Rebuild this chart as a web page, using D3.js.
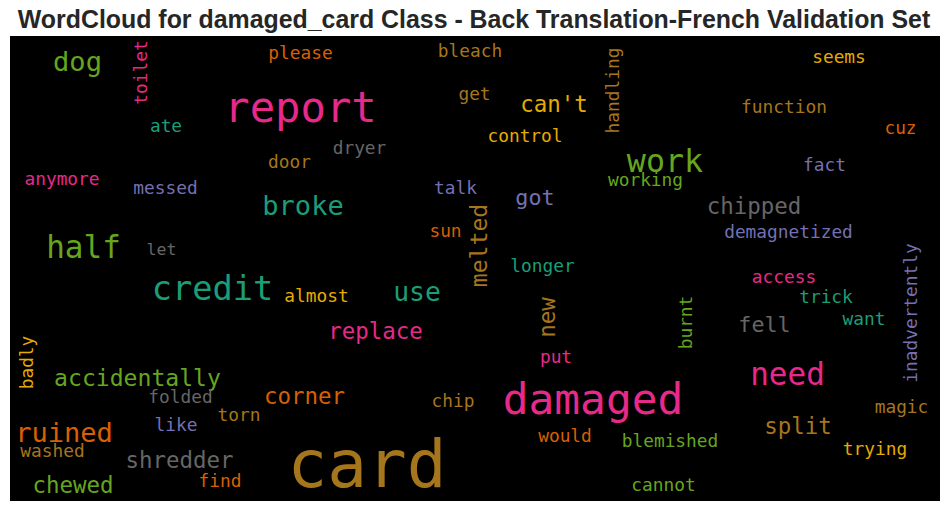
<!DOCTYPE html>
<html>
<head>
<meta charset="utf-8">
<script src="https://cdn.jsdelivr.net/npm/d3@7"></script>
<style>
  body { margin: 0; background: #fff; }
  svg { display: block; }
</style>
</head>
<body>
<svg id="chart" width="950" height="511"></svg>
<script>
const TITLE = 'WordCloud for damaged_card Class - Back Translation-French Validation Set';

// words and their relative frequency (1 = most frequent)
const WORDS = ['report', 'card', 'damaged', 'credit', 'work', 'half', 'need', 'dog', 'broke', 'ruined',
	'use', "can't", 'replace', 'chipped', 'accidentally', 'corner', 'split', 'chewed', 'shredder', 'got',
	'fell', 'please', 'ate', 'dryer', 'door', 'anymore', 'bleach', 'get', 'control', 'seems',
	'function', 'cuz', 'fact', 'messed', 'talk', 'let', 'sun', 'almost', 'working', 'demagnetized',
	'longer', 'access', 'trick', 'want', 'folded', 'chip', 'torn', 'like', 'washed', 'find',
	'put', 'magic', 'would', 'blemished', 'trying', 'cannot', 'toilet', 'handling', 'melted', 'new',
	'burnt', 'inadvertently', 'badly'];
const FREQ = [0.64, 1.00, 0.65, 0.51, 0.48, 0.47, 0.47, 0.41, 0.41, 0.41,
	0.40, 0.34, 0.34, 0.34, 0.35, 0.34, 0.34, 0.34, 0.34, 0.33,
	0.33, 0.27, 0.27, 0.27, 0.27, 0.27, 0.27, 0.27, 0.27, 0.27,
	0.27, 0.27, 0.27, 0.27, 0.27, 0.25, 0.27, 0.27, 0.27, 0.27,
	0.27, 0.27, 0.27, 0.27, 0.27, 0.27, 0.27, 0.27, 0.27, 0.27,
	0.27, 0.27, 0.27, 0.27, 0.27, 0.27, 0.27, 0.27, 0.35, 0.34,
	0.27, 0.27, 0.27];

// cloud layout (cloud coordinates 930 x 465), rotation and colour slot in Dark2
const LAYOUT_X = [290.5, 357, 583, 202.5, 655, 73.5, 777.5, 67.5, 293, 54,
	407, 544, 365.5, 744, 127.5, 294.5, 788, 63, 169.5, 525,
	754.5, 290.5, 156, 349.5, 279.5, 52, 460, 464.5, 515, 829,
	774, 890.5, 814.5, 155.5, 445.5, 151.5, 435.5, 306.5, 635.5, 778.5,
	532.5, 774, 816, 854, 170.5, 443, 229, 166, 42.5, 210,
	546, 891.5, 555, 660, 865, 653.5, 137, 609, 477, 545,
	682, 907, 22.5];
const LAYOUT_Y = [86, 451, 378, 264, 136, 222, 349, 35, 179, 406,
	265, 76, 303, 178, 350, 368, 398, 457, 432, 169,
	296, 23, 96, 118, 132, 149, 21, 64, 106, 27,
	77, 98, 135, 158, 158, 219, 201, 266, 150, 202,
	236, 247, 267, 289, 367, 371, 385, 395, 421, 451,
	327, 377, 406, 411, 419, 455, 36.5, 54.5, 209.5, 281.5,
	286.5, 277, 326.5];
const VERTICAL = ['toilet', 'handling', 'melted', 'new', 'burnt', 'inadvertently', 'badly'];
const HUE = [3, 6, 3, 0, 4, 4, 3, 4, 0, 1,
	0, 5, 3, 7, 4, 1, 6, 4, 7, 2,
	7, 1, 0, 7, 6, 3, 6, 6, 5, 5,
	6, 1, 2, 2, 2, 7, 1, 5, 4, 2,
	0, 3, 0, 0, 7, 6, 6, 2, 6, 1,
	3, 6, 1, 4, 5, 4, 3, 6, 6, 6,
	4, 2, 5];

const svg = d3.select('#chart');

svg.append('text')
	.attr('x', 474)
	.attr('y', 27.5)
	.attr('text-anchor', 'middle')
	.style('font-family', '"Liberation Sans", Arial, sans-serif')
	.style('font-weight', 'bold')
	.style('font-size', '24.9px')
	.style('fill', '#262626')
	.text(TITLE);

const x = d3.scaleLinear().domain([0, 930]).range([10, 940]);
const y = d3.scaleLinear().domain([0, 465]).range([36, 501]);
const size = d3.scaleLinear().domain([0, 1]).range([0, 66]);
const colour = d3.scaleOrdinal().domain(d3.range(8)).range(d3.schemeDark2);

svg.append('rect')
	.attr('x', x(0))
	.attr('y', y(0))
	.attr('width', x(930) - x(0))
	.attr('height', y(465) - y(0))
	.attr('fill', '#000');

const data = WORDS.map((w, i) => ({
	text: w, freq: FREQ[i], cx: LAYOUT_X[i], cy: LAYOUT_Y[i], hue: HUE[i],
	rot: VERTICAL.includes(w) ? -90 : 0
}));

svg.append('g')
	.selectAll('text')
	.data(data)
	.enter()
	.append('text')
	.attr('transform', d => `translate(${x(d.cx)},${y(d.cy)}) rotate(${d.rot})`)
	.attr('text-anchor', 'middle')
	.style('font-family', '"DejaVu Sans Mono", monospace')
	.style('font-size', d => size(d.freq) + 'px')
	.style('fill', d => colour(d.hue))
	.text(d => d.text);
</script>
</body>
</html>
